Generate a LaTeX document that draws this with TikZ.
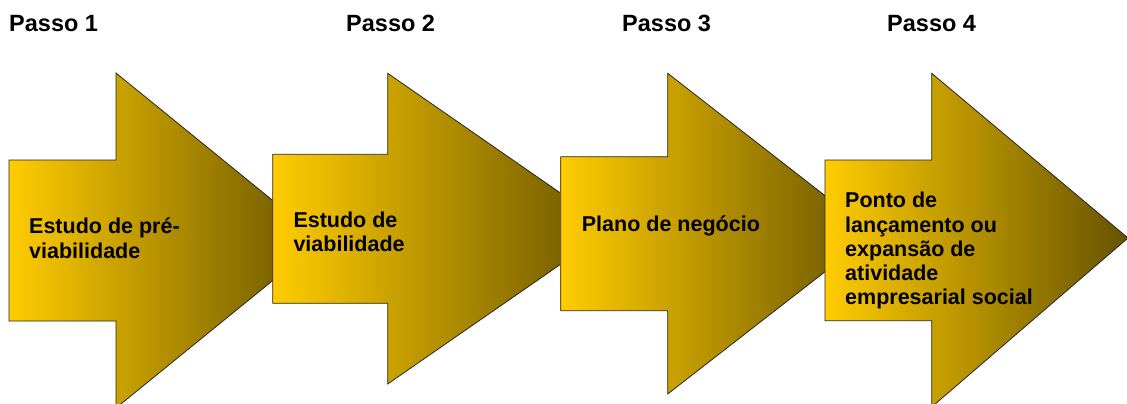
\documentclass[tikz,border=0pt]{standalone}
\usepackage{fontspec}
\setmainfont{Liberation Sans}
\definecolor{passoyellow}{RGB}{255,204,0}
\definecolor{passobrown}{RGB}{102,82,0}
\begin{document}
\begin{tikzpicture}[x=1pt,y=-1pt,
    seta/.style={draw=black!85,line width=0.8pt,left color=passoyellow,right color=passobrown},
    passo/.style={anchor=base west,inner sep=0pt,font=\bfseries\fontsize{23.5}{28}\selectfont},
    rotulo/.style={anchor=north west,inner sep=0pt,align=left,font=\bfseries\fontsize{21.5}{24.3}\selectfont}]
    \useasboundingbox (0,0) rectangle (1127,404);
    \clip (0,0) rectangle (1127,404);
    \foreach \n/\xl/\ya/\yb/\xb/\yc/\yd/\xt/\yt in {
     1/9/160/321/116/73/408/322/240.5,
     2/272.7/154.3/303.3/387.7/73.3/384/612/228.7,
     3/560.7/156.7/310.7/667.7/73.3/394/874/233.7,
     4/825/160/320.7/931.7/73.3/407/1128/238
     } {
      \draw[seta] (\xl,\ya) -- (\xb,\ya) -- (\xb,\yc) -- (\xt,\yt)
        -- (\xb,\yd) -- (\xb,\yb) -- (\xl,\yb) -- cycle;
     }
    \node[passo] (passo1) at (9,31.7) {Passo 1};
    \node[passo] (passo2) at (346,31.7) {Passo 2};
    \node[passo] (passo3) at (622,31.7) {Passo 3};
    \node[passo] (passo4) at (887,31.7) {Passo 4};
    \node[rotulo] (prevb) at (29,218) {Estudo de pré-\\viabilidade};
    \node[rotulo] (viab) at (293.3,211.5) {Estudo de\\viabilidade};
    \node[rotulo] (plano) at (581.7,215.5) {Plano de negócio};
    \node[rotulo] (lanc) at (845,192) {Ponto de\\lançamento ou\\expansão de\\atividade\\empresarial social};
   \end{tikzpicture}
\end{document}
